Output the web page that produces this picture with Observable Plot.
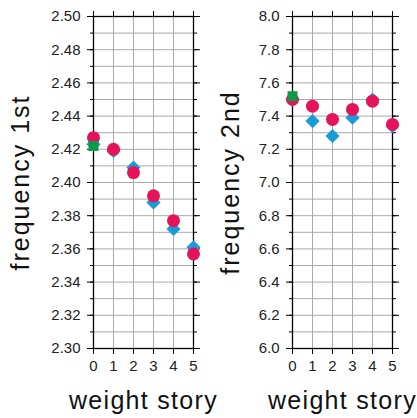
<!DOCTYPE html>
<html>
<head>
<meta charset="utf-8">
<script src="https://cdn.jsdelivr.net/npm/d3@7"></script>
<script src="https://cdn.jsdelivr.net/npm/@observablehq/plot@0.6"></script>
<style>
  html, body { margin: 0; padding: 0; background: white; }
  #wrap { display: flex; width: 417px; height: 418px; }
  #wrap svg { overflow: visible; }
</style>
</head>
<body>
<div id="wrap"></div>
<script>
const stories = [0, 1, 2, 3, 4, 5];

// panel 1: frequency 1st
const f1Blue  = [2.423, 2.419, 2.409, 2.388, 2.372, 2.361];
const f1Red   = [2.427, 2.420, 2.406, 2.392, 2.377, 2.357];
const f1Green = [2.422];
const y1Major = [2.30, 2.32, 2.34, 2.36, 2.38, 2.40, 2.42, 2.44, 2.46, 2.48, 2.50];
const y1Minor = [2.30, 2.31, 2.32, 2.33, 2.34, 2.35, 2.36, 2.37, 2.38, 2.39, 2.40,
                 2.41, 2.42, 2.43, 2.44, 2.45, 2.46, 2.47, 2.48, 2.49, 2.50];

// panel 2: frequency 2nd
const f2Blue  = [7.50, 7.37, 7.28, 7.39, 7.50, 7.34];
const f2Red   = [7.50, 7.46, 7.38, 7.44, 7.49, 7.35];
const f2Green = [7.52];
const y2Major = [6.0, 6.2, 6.4, 6.6, 6.8, 7.0, 7.2, 7.4, 7.6, 7.8, 8.0];
const y2Minor = [6.0, 6.1, 6.2, 6.3, 6.4, 6.5, 6.6, 6.7, 6.8, 6.9, 7.0,
                 7.1, 7.2, 7.3, 7.4, 7.5, 7.6, 7.7, 7.8, 7.9, 8.0];

const xLabel = "weight story";

const BLUE = "#1b9ad8", RED = "#e5145a", GREEN = "#0c9a4a", GRID = "#a9a9a9";

function toRows(vals) { return vals.map((v, i) => ({x: stories[i], v})); }

function panel({width, ml, mr, domain, major, minor, decimals, blue, red, green, ylabel, ylabelX}) {
  const fmt = d => d.toFixed(decimals);
  const blank = () => "";
  const plot = Plot.plot({
    width, height: 418,
    marginLeft: ml, marginRight: mr, marginTop: 16, marginBottom: 70,
    x: {domain: [0, 5]},
    y: {domain},
    style: {fontFamily: "'Liberation Sans', Arial, sans-serif", fontSize: "15px", color: "#222", background: "transparent", overflow: "visible"},
    marks: [
      Plot.gridY(minor, {stroke: GRID, strokeOpacity: 1, strokeWidth: 1}),
      Plot.gridX(stories, {stroke: GRID, strokeOpacity: 1, strokeWidth: 1}),
      Plot.frame({stroke: "black", strokeWidth: 1.3}),
      Plot.axisY(minor, {anchor: "left", tickSize: 3, tickFormat: blank, label: null, stroke: "black"}),
      Plot.axisY(major, {anchor: "left", tickSize: 6, tickPadding: 7, tickFormat: fmt, label: null, stroke: "black", fill: "#222"}),
      Plot.axisY(minor, {anchor: "right", tickSize: 3, tickFormat: blank, label: null, stroke: "black"}),
      Plot.axisY(major, {anchor: "right", tickSize: 6, tickFormat: blank, label: null, stroke: "black"}),
      Plot.axisX(stories, {anchor: "bottom", tickSize: 6, tickPadding: 6, tickFormat: d => String(d), label: null, stroke: "black", fill: "#222"}),
      Plot.axisX(stories, {anchor: "top", tickSize: 6, tickFormat: blank, label: null, stroke: "black"}),
      Plot.dot(toRows(blue), {x: "x", y: "v", symbol: "diamond2", r: 6.4, fill: BLUE, stroke: "none"}),
      Plot.dot(toRows(red), {x: "x", y: "v", symbol: "circle", r: 6.5, fill: RED, stroke: "none"}),
      Plot.dot(toRows(green), {x: "x", y: "v", symbol: "square", r: 5.6, fill: GREEN, stroke: "none"}),
      Plot.text([xLabel], {frameAnchor: "bottom", dy: 60, textAnchor: "middle", lineAnchor: "bottom", fontSize: 25, fill: "#111"}),
      Plot.text([ylabel], {frameAnchor: "left", dx: ylabelX - ml, rotate: -90, textAnchor: "middle", lineAnchor: "bottom", fontSize: 25, fill: "#111"})
    ]
  });
  d3.select(plot).selectAll("text").filter(function() { return this.textContent === xLabel; }).attr("letter-spacing", "1.3px");
  d3.select(plot).selectAll("text").filter(function() { return this.textContent === ylabel; }).attr("letter-spacing", "2px");
  return plot;
}

const wrap = document.getElementById("wrap");
wrap.append(panel({width: 208, ml: 93, mr: 15, domain: [2.30, 2.50], major: y1Major, minor: y1Minor, decimals: 2,
  blue: f1Blue, red: f1Red, green: f1Green, ylabel: "frequency 1st", ylabelX: 28.3}));
wrap.append(panel({width: 209, ml: 84, mr: 25, domain: [6.0, 8.0], major: y2Major, minor: y2Minor, decimals: 1,
  blue: f2Blue, red: f2Red, green: f2Green, ylabel: "frequency 2nd", ylabelX: 30.3}));
</script>
</body>
</html>
